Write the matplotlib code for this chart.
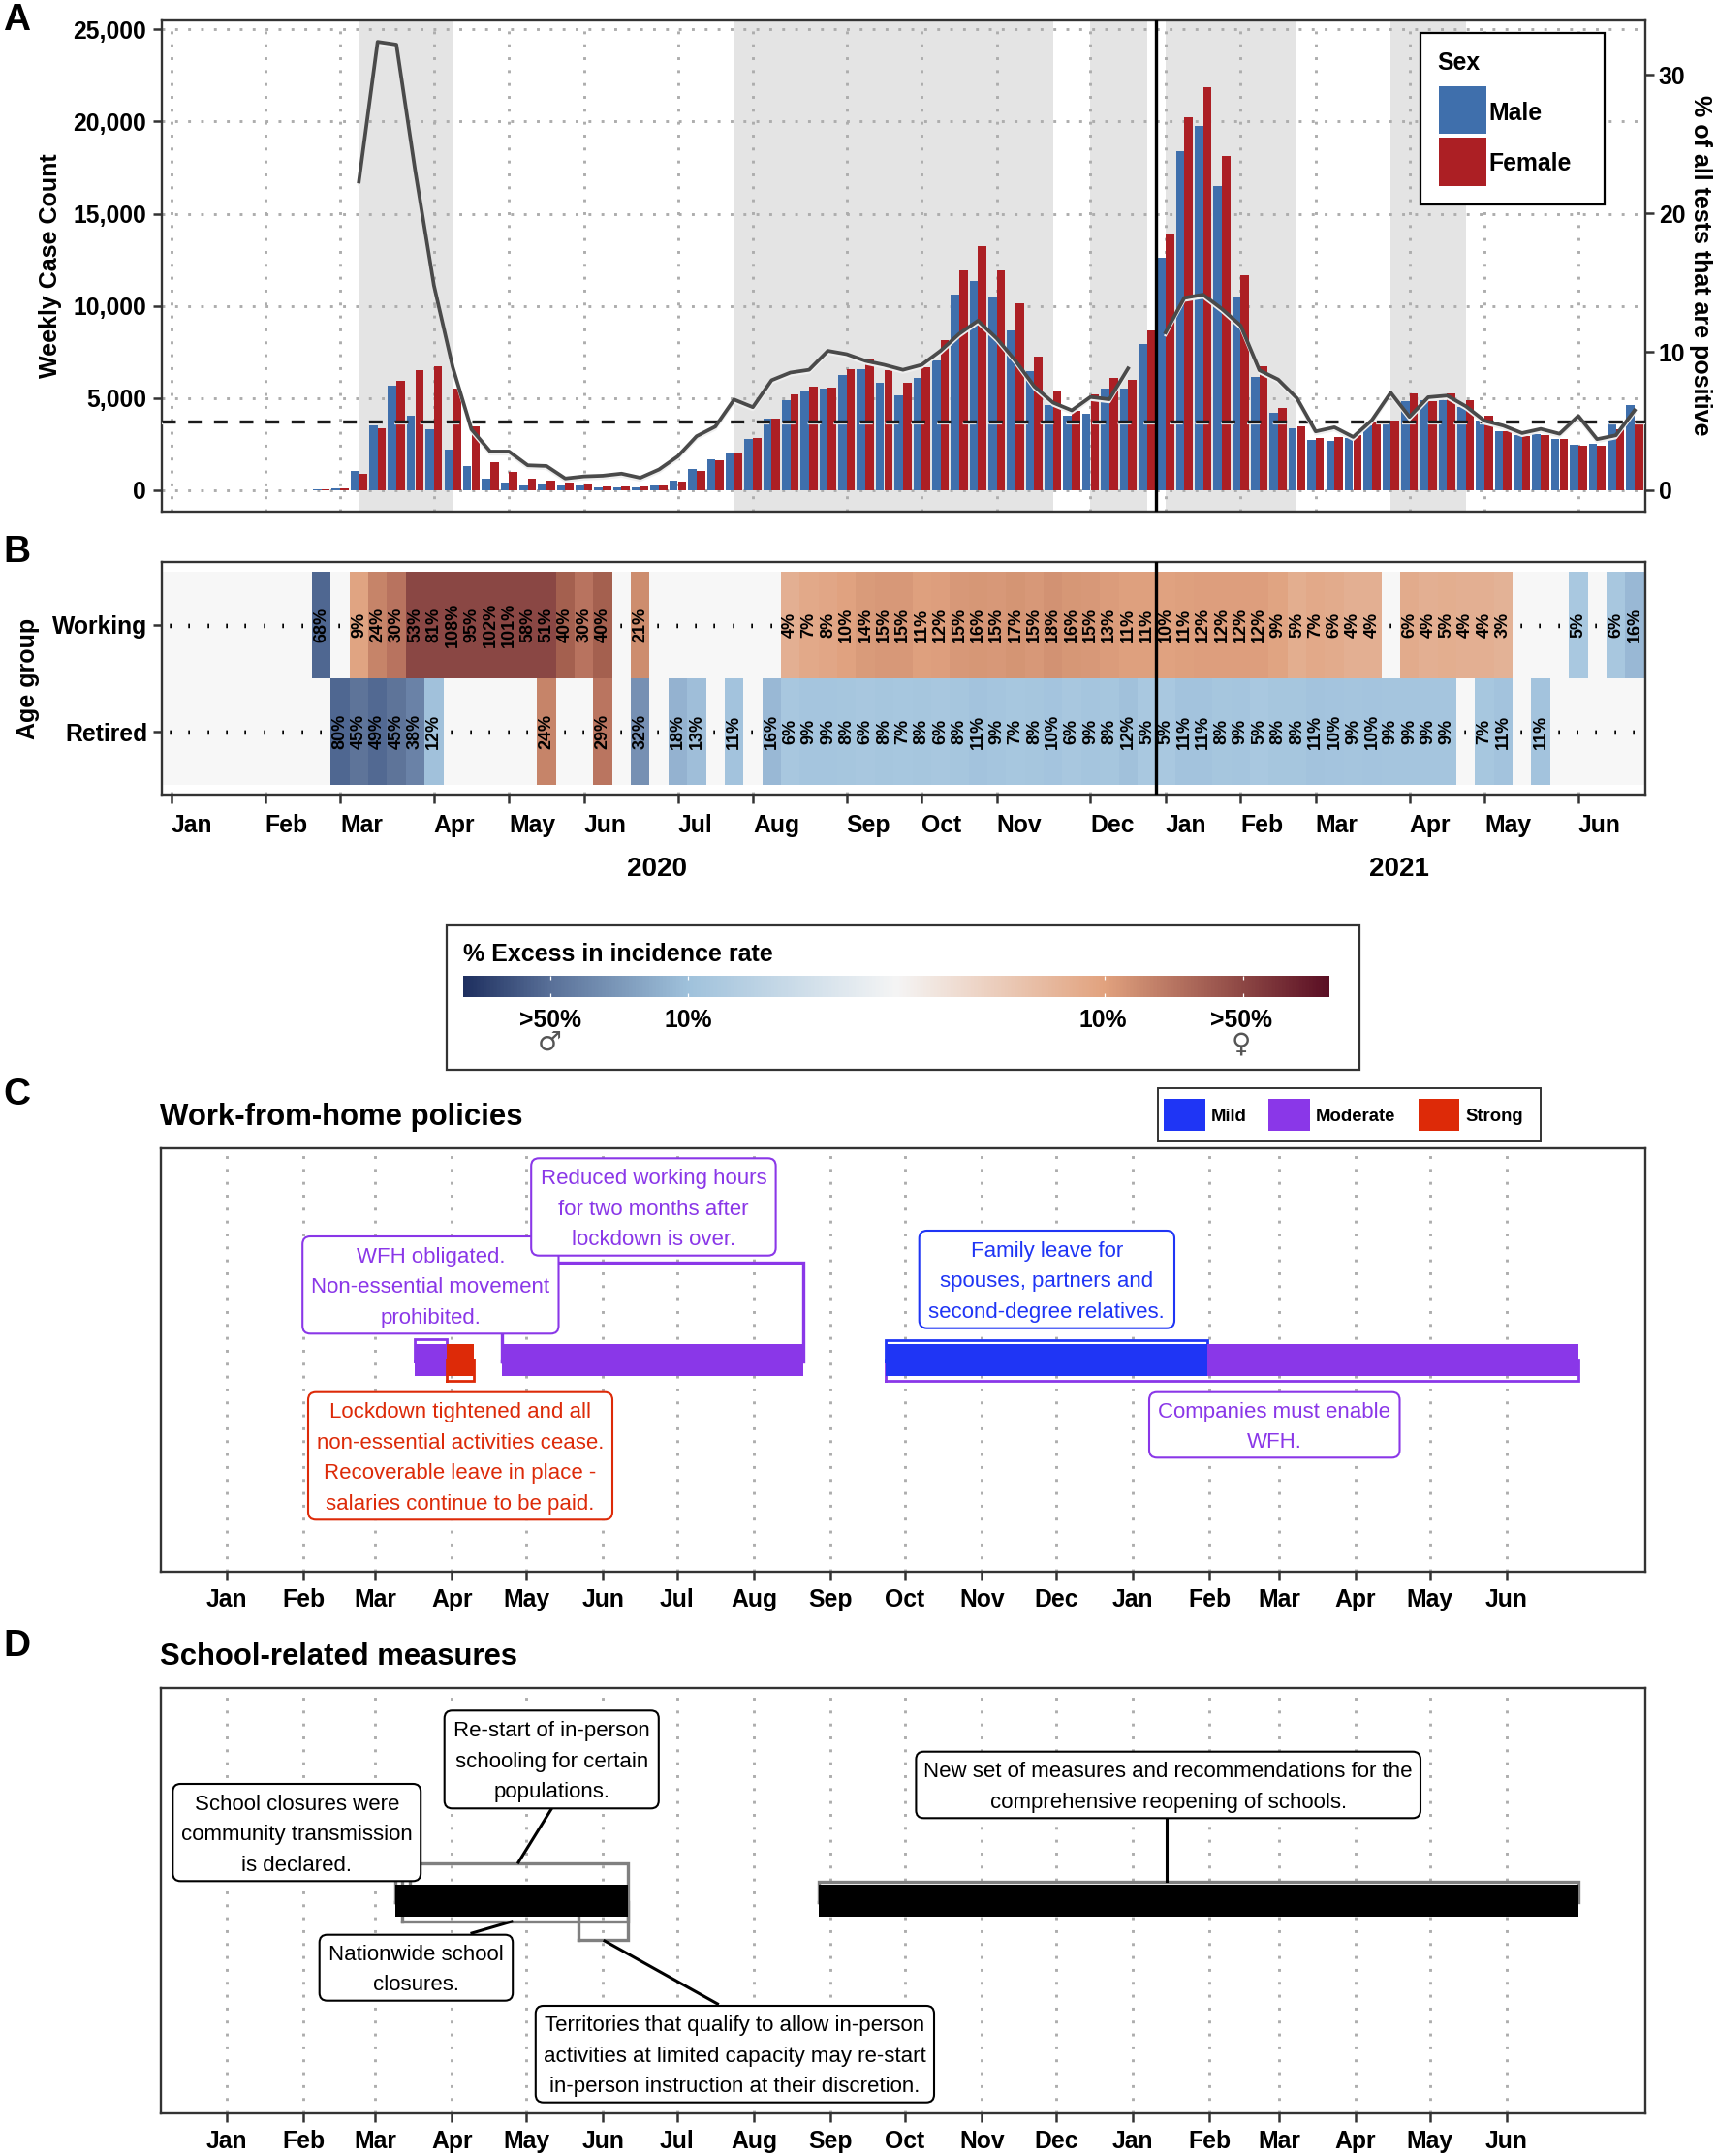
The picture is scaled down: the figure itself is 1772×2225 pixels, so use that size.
import numpy as np
import pandas as pd
import matplotlib
matplotlib.use("Agg")
import matplotlib.pyplot as plt
import matplotlib.transforms as mtrans
from matplotlib.colors import LinearSegmentedColormap, Normalize
from matplotlib.patches import FancyBboxPatch, Rectangle

plt.rcParams['font.family'] = ['Liberation Sans', 'DejaVu Sans']

nan = np.nan

# weekly cases, week 0 is the first week of january 2020
weeks = np.arange(79)
male_cases = [0, 0, 0, 0, 0, 0, 0, 0, 30, 120, 1070, 3530, 5670, 4060, 3320, 2210, 1300, 620, 420, 270,
              330, 270, 250, 145, 160, 160, 235, 500, 1130, 1660, 2060, 2800, 3910, 4910, 5430, 5510, 6250, 6560, 5840, 5150,
              6070, 7020, 10590, 11330, 10530, 8650, 6470, 4600, 4020, 4150, 5510, 5510, 7920, 12600, 18400, 19780, 16480, 10530, 6150, 4210,
              3380, 2750, 2680, 2850, 3500, 3780, 4850, 4900, 4880, 4500, 3760, 3200, 3010, 3045, 2800, 2485, 2500, 3780, 4640]
female_cases = [0, 0, 0, 0, 0, 0, 0, 0, 30, 90, 890, 3370, 5910, 6530, 6740, 5490, 3460, 1520, 980, 600,
                510, 430, 310, 215, 180, 200, 250, 480, 1060, 1630, 2010, 2850, 3910, 5180, 5630, 5580, 6580, 7160, 6530, 5840,
                6670, 8140, 11910, 13230, 11910, 10120, 7230, 5350, 4300, 5190, 6070, 6000, 8650, 13900, 20250, 21860, 18130, 11680, 6730, 4480,
                3450, 2835, 2900, 2975, 3690, 3760, 5270, 4810, 5250, 4900, 4025, 3200, 2920, 3010, 2800, 2400, 2400, 3325, 3760]
positivity = [nan, nan, nan, nan, nan, nan, nan, nan, nan, nan, 22.3, 32.4, 32.2, 23.1, 14.8, 8.9, 4.4, 2.8, 2.8, 1.8,
              1.75, 0.85, 1.0, 1.05, 1.2, 0.9, 1.5, 2.45, 3.9, 4.6, 6.55, 6.0, 7.95, 8.5, 8.7, 10.07, 9.83, 9.35, 9.06, 8.7,
              9.06, 10.07, 11.3, 12.25, 10.97, 9.35, 7.5, 6.33, 5.77, 6.74, 6.57, 8.8, nan, 11.4, 13.9, 14.13, 13.1, 11.9, 8.67, 8.0,
              6.65, 4.25, 4.55, 3.85, 5.07, 7.05, 5.3, 6.72, 6.84, 6.07, 5.02, 4.67, 4.13, 4.43, 4.08, 5.37, 3.69, 3.97, 5.77]
threshold_pct = 5
shade_start = [10, 30, 49, 53, 65]
shade_end = [15, 47, 52, 60, 69]
year_break = 52.5

# excess in incidence, negative = more in men, positive = more in women, nan = no excess
working_excess = [nan, nan, nan, nan, nan, nan, nan, nan, -68, nan, 9, 24, 30, 53, 81, 108, 95, 102, 101, 58,
                  51, 40, 30, 40, nan, 21, nan, nan, nan, nan, nan, nan, nan, 4, 7, 8, 10, 14, 15, 15,
                  11, 12, 15, 16, 15, 17, 15, 18, 16, 15, 13, 11, 11, 10, 11, 12, 12, 12, 12, 9,
                  5, 7, 6, 4, 4, nan, 6, 4, 5, 4, 4, 3, nan, nan, nan, -5, nan, -6, -16]
retired_excess = [nan, nan, nan, nan, nan, nan, nan, nan, nan, -80, -45, -49, -45, -38, -12, nan, nan, nan, nan, nan,
                  24, nan, nan, 29, nan, -32, nan, -18, -13, nan, -11, nan, -16, -6, -9, -9, -8, -6, -8, -7,
                  -8, -6, -8, -11, -9, -7, -8, -10, -6, -9, -8, -12, -5, -5, -11, -11, -8, -9, -5, -8,
                  -8, -11, -10, -9, -10, -9, -9, -9, -9, nan, -7, -11, nan, -11, nan, nan, nan, nan, nan]

month_names = ["Jan", "Feb", "Mar", "Apr", "May", "Jun", "Jul", "Aug", "Sep", "Oct", "Nov", "Dec",
               "Jan", "Feb", "Mar", "Apr", "May", "Jun"]
month_weeks = [0, 5, 9, 14, 18, 22, 27, 31, 36, 40, 44, 49, 53, 57, 61, 66, 70, 75]
month_dates = pd.date_range("2020-01-01", "2021-06-01", freq="MS")

wfh_start = ["2020-03-17", "2020-03-30", "2020-04-21", "2020-09-23", "2021-01-31"]
wfh_end = ["2020-03-30", "2020-04-10", "2020-08-21", "2021-01-31", "2021-06-30"]
wfh_level = ["Moderate", "Strong", "Moderate", "Mild", "Moderate"]
school_start = ["2020-03-09", "2020-08-27"]
school_end = ["2020-06-11", "2021-06-30"]

W, H = 1772, 2225
BLUE, RED = '#3f6fac', '#ac1f24'
DARK = '#333333'
DOT = '#adadad'
LEVEL_COL = {"Mild": '#1f35f5', "Moderate": '#8a37e8', "Strong": '#dd2a08'}
TICK_SIZE = 17.8


def panel(left, top, right, bottom):
    ax = fig.add_axes([left / W, 1 - bottom / H, (right - left) / W, (bottom - top) / H])
    for s in ax.spines.values():
        s.set_color(DARK)
        s.set_linewidth(1.7)
    ax.tick_params(length=6.5, width=1.8, color=DARK, labelsize=TICK_SIZE)
    ax.set_axisbelow(True)
    return ax


def dotted_grid(ax, axis='x'):
    ax.grid(True, axis=axis, color=DOT, lw=2.1, ls=(0, (1, 3.57)), zorder=1)


def bold_ticks(ax):
    for t in ax.get_xticklabels() + ax.get_yticklabels():
        t.set_fontweight('bold')


fig = plt.figure(figsize=(W / 100, H / 100), dpi=100)

# --- A : cases and positivity ---
ax_a = panel(166.5, 21, 1698, 527.6)
for a, b in zip(shade_start, shade_end):
    ax_a.axvspan(a, b, color='#e4e4e4', lw=0, zorder=0)
dotted_grid(ax_a, 'both')
weeks_arr = np.array(weeks)
ax_a.bar(weeks_arr - 0.225, male_cases, width=0.445, color=BLUE, zorder=2)
ax_a.bar(weeks_arr + 0.225, female_cases, width=0.445, color=RED, zorder=2)
ax_a.axhline(threshold_pct * 750 - 150, color='white', lw=1.6, ls=(0, (6.2, 5.8)), zorder=3)
ax_a.axhline(threshold_pct * 750, color='#1a1a1a', lw=2.4, ls=(0, (4.2, 3.8)), zorder=4)
ax_a.axvline(year_break, color='black', lw=2.4, zorder=6)
ax_a.set_xlim(-0.53, 78.57)
ax_a.set_ylim(-1140, 25490)
ax_a.set_xticks(month_weeks)
ax_a.tick_params(axis='x', bottom=False, labelbottom=False)
ax_a.tick_params(axis='y', pad=4.5)
ax_a.set_yticks([0, 5000, 10000, 15000, 20000, 25000])
ax_a.set_yticklabels(["0", "5,000", "10,000", "15,000", "20,000", "25,000"])
bold_ticks(ax_a)

ax_a2 = ax_a.twinx()
ax_a2.set_ylim(-1140 / 750.8, 25490 / 750.8)
halo = ax_a2.transData + mtrans.ScaledTranslation(0, -2 / 72, fig.dpi_scale_trans)
ax_a2.plot(weeks, positivity, color='#efefef', lw=2.0, transform=halo, zorder=5)
ax_a2.plot(weeks, positivity, color='#4a4a4a', lw=2.7, zorder=6)
ax_a2.set_yticks([0, 10, 20, 30])
ax_a2.tick_params(length=6.5, width=1.8, color=DARK, labelsize=TICK_SIZE)
bold_ticks(ax_a2)
for s in ax_a2.spines.values():
    s.set_visible(False)

# --- B : excess heat map ---
ax_b = panel(166.5, 580, 1698, 820)
dotted_grid(ax_b, 'x')
ax_b.axhspan(-0.5, 1.5, color='#f7f7f7', lw=0, zorder=1.5)

tile_stops = [(-50, '#4f6791'), (-45, '#5f7599'), (-38, '#6a82a8'), (-32, '#7690b3'), (-18, '#95b3d1'),
              (-11, '#a3c3dd'), (-3, '#abcae1'), (3, '#e4b295'), (10, '#e0a280'), (21, '#cd8d6e'),
              (30, '#b8735f'), (40, '#a5604f'), (50, '#8a4744')]
tile_cmap = LinearSegmentedColormap.from_list("tiles", [((v + 50) / 100, c) for v, c in tile_stops])
excess = np.ma.masked_invalid(np.array([retired_excess, working_excess], dtype=float))
ax_b.pcolormesh(np.arange(-0.5, 79), [-0.5, 0.5, 1.5], excess, cmap=tile_cmap,
                norm=Normalize(-50, 50), edgecolors='none', zorder=2)
for row, vals in enumerate([retired_excess, working_excess]):
    for w, v in zip(weeks, vals):
        lab = "-" if np.isnan(v) else f"{abs(v)}%"
        ax_b.text(w, row, lab, rotation=90, ha='center', va='center', fontsize=13,
                  fontweight='bold', color='black', zorder=4)
ax_b.axvline(year_break, color='black', lw=2.4, zorder=6)
ax_b.set_xlim(-0.53, 78.57)
ax_b.set_ylim(-0.59, 1.59)
ax_b.set_yticks([0, 1])
ax_b.set_yticklabels(["Retired", "Working"])
ax_b.set_xticks(month_weeks)
ax_b.set_xticklabels(month_names)
ax_b.tick_params(axis='x', pad=8)
bold_ticks(ax_b)
for t in ax_b.get_xticklabels():
    t.set_ha('left')


# --- C and D : policy timelines ---
def timeline(top, bottom):
    ax = panel(166, top, 1698, bottom)
    half = (bottom - top) / 2
    ax.set_xlim(pd.Timestamp("2020-01-01") - pd.Timedelta(days=26.6), pd.Timestamp("2020-01-01") + pd.Timedelta(days=573))
    ax.set_ylim(-half, half)
    ax.set_xticks(month_dates)
    ax.set_xticklabels(month_names)
    ax.set_yticks([])
    ax.tick_params(axis='x', pad=6)
    dotted_grid(ax, 'x')
    bold_ticks(ax)
    return ax


def outline(ax, start, end, y0, y1, color, lw=2.0, z=2):
    s, e = pd.Timestamp(start), pd.Timestamp(end)
    ax.plot([s, e, e, s, s], [y0, y0, y1, y1, y0], color=color, lw=lw, zorder=z, solid_joinstyle='miter')


def filled(ax, start, end, half, color, z=3):
    ax.fill_between([pd.Timestamp(start), pd.Timestamp(end)], -half, half, color=color, lw=0, zorder=z)


ax_c = timeline(1185, 1622)
purple, red, blue = LEVEL_COL["Moderate"], LEVEL_COL["Strong"], LEVEL_COL["Mild"]
outline(ax_c, "2020-03-17", "2020-03-30", -1.5, 21.5, purple)
outline(ax_c, "2020-04-21", "2020-08-21", -1.5, 100.5, purple, lw=2.4)
outline(ax_c, "2020-03-30", "2020-04-10", -21.5, 1, red, z=4)
outline(ax_c, "2020-09-23", "2021-06-30", -21.5, 0, purple)
outline(ax_c, "2020-09-23", "2021-01-31", -1.5, 20.5, blue)
for a, b, lev in zip(wfh_start, wfh_end, wfh_level):
    filled(ax_c, a, b, 16.5, LEVEL_COL[lev], z=3)

ax_d = timeline(1742, 2181)
grey = '#808080'
outline(ax_d, "2020-03-12", "2020-06-11", -21, 39, grey, lw=2.4)
outline(ax_d, "2020-03-09", "2020-03-15", -1, 39, grey, lw=2.4)
outline(ax_d, "2020-05-22", "2020-06-11", -40.5, -1, grey, lw=2.4)
outline(ax_d, "2020-08-27", "2021-06-30", -1, 20, grey, lw=2.4)
for a, b in zip(school_start, school_end):
    filled(ax_d, a, b, 16.2, 'black')

# --- overlay in pixels for legends, call-outs and titles ---
ov = fig.add_axes([0, 0, 1, 1], zorder=20)
ov.set_xlim(0, W)
ov.set_ylim(H, 0)
ov.axis('off')
ov.patch.set_alpha(0)


def txt(x, y, s, size=TICK_SIZE, ha='left', va='center', weight='bold', color='black', z=8, **kw):
    ov.text(x, y, s, fontsize=size, ha=ha, va=va, fontweight=weight, color=color, zorder=z, **kw)


def note(x0, y0, x1, y1, s, color='black', lw=1.5, z=5):
    ov.add_patch(FancyBboxPatch((x0 + 1, y0 + 1), x1 - x0 - 2, y1 - y0 - 2, boxstyle="round,pad=0,rounding_size=8",
                                fc='white', ec=color, lw=lw, zorder=z))
    ov.text((x0 + x1) / 2, (y0 + y1) / 2 + 2.5, s, fontsize=16, ha='center', va='center', color=color,
            linespacing=1.66, zorder=z + 1)


def swatch(x0, y0, x1, y1, color):
    ov.add_patch(Rectangle((x0, y0), x1 - x0, y1 - y0, fc=color, ec='none', zorder=6))


for letter, y in zip("ABCD", [21, 570, 1130, 1699]):
    txt(3, y, letter, size=28)

txt(52, 274, "Weekly Case Count", size=18, rotation=90, ha='center')
txt(1755, 274, "% of all tests that are positive", size=18, rotation=270, ha='center')
txt(29, 700, "Age group", size=18, rotation=90, ha='center')
txt(678.5, 897.5, "2020", size=20, ha='center')
txt(1444, 897.5, "2021", size=20, ha='center')

# sex legend
ov.add_patch(Rectangle((1466, 34), 190, 177, fc='white', ec='black', lw=1.6, zorder=5))
txt(1483, 65, "Sex")
swatch(1484.7, 89, 1534, 138, BLUE)
swatch(1484.7, 142.4, 1534, 191.7, RED)
txt(1536, 116.5, "Male")
txt(1536, 169.5, "Female")

# incidence scale
ov.add_patch(Rectangle((461, 955), 942, 149, fc='white', ec=DARK, lw=1.6, zorder=1))
txt(478, 985.5, "% Excess in incidence rate", size=18)
scale_stops = [(0, '#1f3060'), (0.101, '#5a7199'), (0.26, '#a0c2dc'), (0.5, '#f5f5f5'),
               (0.74, '#e2a37f'), (0.9, '#8e4845'), (1, '#5a0f24')]
scale_cmap = LinearSegmentedColormap.from_list("scale", scale_stops)
cax = fig.add_axes([478 / W, 1 - 1029 / H, (1372 - 478) / W, 22.3 / H], zorder=21)
cax.imshow(np.linspace(0, 1, 512)[None, :], cmap=scale_cmap, aspect='auto', extent=[0, 1, 0, 1])
cax.axis('off')
for p in [0.101, 0.26, 0.74, 0.9]:
    cax.vlines(p, 0, 0.18, color='white', lw=0.9)
    cax.vlines(p, 0.82, 1, color='white', lw=0.9)
for x, s in zip([567.6, 710.5, 1138.7, 1281], [">50%", "10%", "10%", ">50%"]):
    txt(x, 1052.5, s, ha='center')
ov.text(567.6, 1076, "\u2642", fontsize=20, ha='center', va='center', family='DejaVu Sans', color='#555555', zorder=8)
ov.text(1281, 1077, "\u2640", fontsize=20, ha='center', va='center', family='DejaVu Sans', color='#555555', zorder=8)

# C header and legend
txt(165, 1152.5, "Work-from-home policies", size=22.4)
ov.add_patch(Rectangle((1195.5, 1123.3), 394.2, 54.4, fc='white', ec=DARK, lw=1.4, zorder=5))
for x0, x1, lx, lev in zip([1201.4, 1309, 1463.8], [1243.8, 1352.4, 1506.5], [1250, 1358, 1512],
                           ["Mild", "Moderate", "Strong"]):
    swatch(x0, 1134, x1, 1167.3, LEVEL_COL[lev])
    txt(lx, 1152.7, lev, size=13.3)

note(311.2, 1275, 577.5, 1377.3, "WFH obligated.\nNon-essential movement\nprohibited.", color=purple)
note(547.2, 1194.3, 801.6, 1296.7, "Reduced working hours\nfor two months after\nlockdown is over.", color=purple, z=7)
note(947.7, 1269, 1213, 1371.7, "Family leave for\nspouses, partners and\nsecond-degree relatives.", color=blue)
note(317, 1435.7, 633, 1569.3, "Lockdown tightened and all\nnon-essential activities cease.\nRecoverable leave in place -\nsalaries continue to be paid.", color=red)
note(1185, 1435.7, 1445.5, 1505.3, "Companies must enable\nWFH.", color=purple)

# D header, connectors and call-outs
txt(165, 1710.5, "School-related measures", size=22.3)
for (x0, y0), (x1, y1) in [((569, 1867), (535, 1922)), ((528, 1983), (487, 1995)),
                           ((624, 2003), (740.5, 2068)), ((1204.5, 1877), (1204.5, 1941))]:
    ov.plot([x0, x1], [y0, y1], color='black', lw=2.2, zorder=3)
note(177.3, 1840, 435.2, 1942.3, "School closures were\ncommunity transmission\nis declared.")
note(457.7, 1764.3, 680.8, 1867.3, "Re-start of in-person\nschooling for certain\npopulations.")
note(328.7, 1995.7, 530.2, 2065.7, "Nationwide school\nclosures.")
note(551.8, 2069, 965, 2170.7, "Territories that qualify to allow in-person\nactivities at limited capacity may re-start\nin-person instruction at their discretion.")
note(944.4, 1806.7, 1467, 1877.3, "New set of measures and recommendations for the\ncomprehensive reopening of schools.")

fig.savefig("out.png", dpi=100)
